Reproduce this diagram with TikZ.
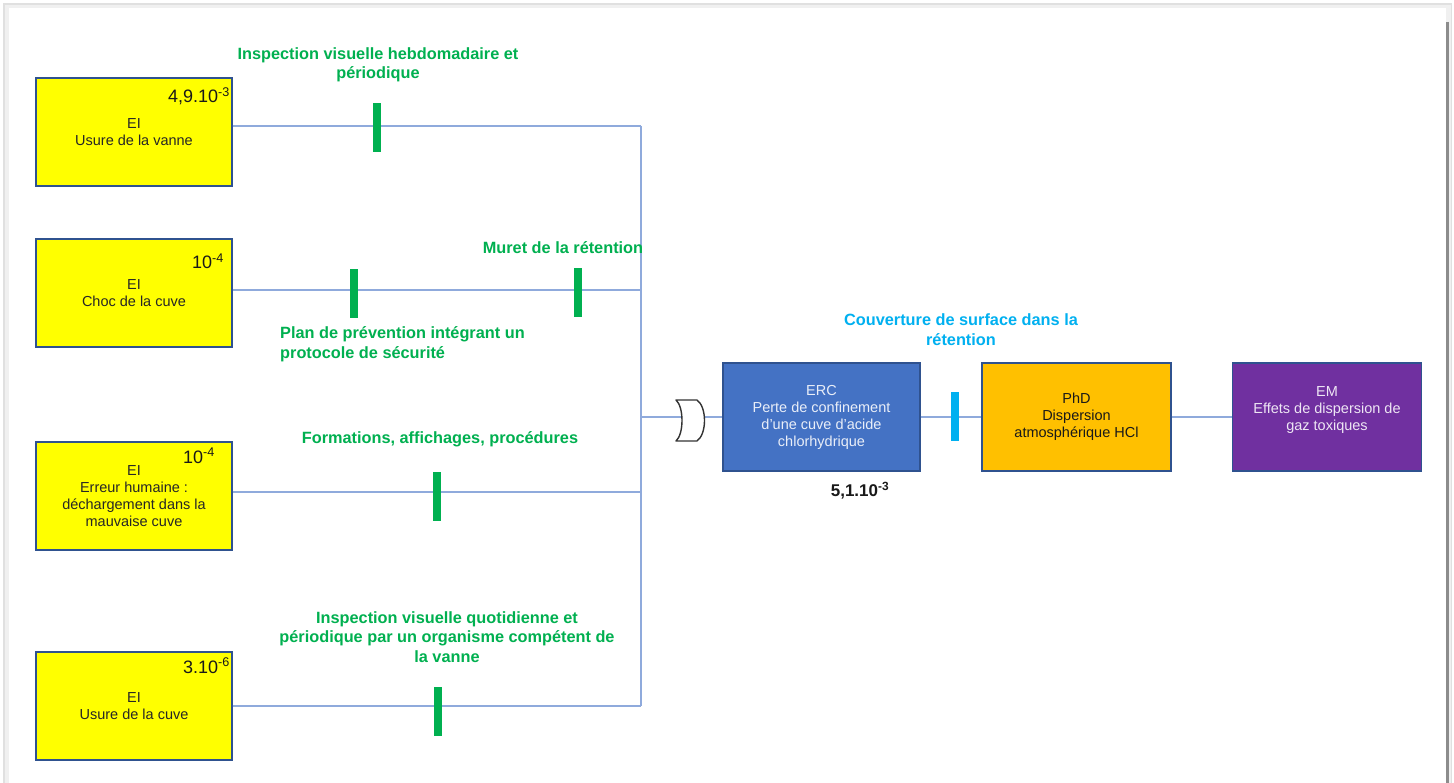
\documentclass[tikz,border=0pt]{standalone}
\usepackage{fontspec}
\setmainfont{Liberation Sans}
\definecolor{bordc}{HTML}{2F528F}
\definecolor{linec}{HTML}{8FAADC}
\definecolor{eiyellow}{HTML}{FFFF00}
\definecolor{barg}{HTML}{00B050}
\definecolor{cyanc}{HTML}{00B0F0}
\definecolor{ercblue}{HTML}{4472C4}
\definecolor{phdor}{HTML}{FFC000}
\definecolor{empur}{HTML}{7030A0}
\begin{document}
\begin{tikzpicture}[x=1pt,y=-1pt,
  box/.style={draw=bordc, line width=1.2pt, minimum width=196pt, minimum height=108pt, inner sep=0pt, align=center, font=\fontsize{14.5}{17}\selectfont},
  ei/.style={box, fill=eiyellow, text=black!85},
  link/.style={draw=linec, line width=1.2pt},
  bar/.style={fill=barg, minimum width=8pt, minimum height=49pt, inner sep=0pt},
  cbar/.style={fill=cyanc, minimum width=8pt, minimum height=49pt, inner sep=0pt},
  glab/.style={text=barg, font=\fontsize{16.3}{19.5}\selectfont\bfseries, align=center, inner sep=0pt},
  prob/.style={font=\fontsize{18}{20}\selectfont, inner sep=0pt, anchor=base east, text=black!90}]
\useasboundingbox (0,0) rectangle (1454,783);
% page frame with shadow
\fill[black!12] (3,3) rectangle (1452,783);
\fill[black!6] (5,5) rectangle (1451,783);
\fill[white] (9,8) rectangle (1446,783);
\draw[black!45, line width=2.5pt] (1447.5,22) -- (1447.5,783);
% initiating events
\node[ei] (e1) at (134,132) {EI\\Usure de la vanne};
\node[ei] (e2) at (134,293) {EI\\Choc de la cuve};
\node[ei] (e3) at (134,496) {EI\\Erreur humaine :\\déchargement dans la\\mauvaise cuve};
\node[ei] (e4) at (134,706) {EI\\Usure de la cuve};
\node[prob] (p1) at (230,103) {4,9.10\textsuperscript{-3}};
\node[prob] (p2) at (224,269) {10\textsuperscript{-4}};
\node[prob] (p3) at (215,463) {10\textsuperscript{-4}};
\node[prob] (p4) at (230,673) {3.10\textsuperscript{-6}};
% central boxes
\node[box, minimum width=197pt, fill=ercblue, text=white!88!ercblue] (erc) at (821.5,417) {ERC\\Perte de confinement\\d’une cuve d’acide\\chlorhydrique};
\node[box, minimum width=189pt, fill=phdor, text=black!90] (phd) at (1076.5,417) {PhD\\Dispersion\\atmosphérique HCl};
\node[box, minimum width=189pt, fill=empur] (em) at (1327,417) {};
\node[align=center, font=\fontsize{14.5}{17}\selectfont, text=white!88!empur, inner sep=0pt] (emt) at (1327,410) {EM\\Effets de dispersion de\\gaz toxiques};
% gate
\node[minimum width=30pt, minimum height=41pt, inner sep=0pt] (gate) at (691,420.5) {};
\coordinate (j1) at (641,126);
\coordinate (j2) at (641,290);
\coordinate (j3) at (641,492);
\coordinate (j4) at (641,706);
\coordinate (j0) at (641,417);
\coordinate (gin) at (682,417);
\coordinate (gout) at (705,417);
% connectors
\draw[link] (e1.east |- j1) -- (j1);
\draw[link] (e2.east |- j2) -- (j2);
\draw[link] (e3.east |- j3) -- (j3);
\draw[link] (e4.east |- j4) -- (j4);
\draw[link] (j1) -- (j4);
\draw[link] (j0) -- (gin);
\draw[link] (gout) -- (erc.west);
\draw[link] (erc.east) -- (phd.west);
\draw[link] (phd.east) -- (em.west);
\draw[black!80, line width=1.4pt, line join=round, fill=white]
  (676,400) -- (697,400) .. controls (707,407) and (707,434) .. (697,441)
  -- (676,441) .. controls (684,434) and (684,407) .. (676,400) -- cycle;
% barriers
\node[bar] (b1) at (377,128) {};
\node[bar] (b2) at (354,293.5) {};
\node[bar] (b3) at (578,293) {};
\node[bar] (b4) at (437,496) {};
\node[bar] (b5) at (438,711.5) {};
\node[cbar] (b6) at (955,416.5) {};
% labels
\node[glab] (l1) at (378,65) {Inspection visuelle hebdomadaire et\\périodique};
\node[glab] (l2) at (563,248) {Muret de la rétention};
\node[glab, align=left, anchor=west] (l3) at (280,344) {Plan de prévention intégrant un\\protocole de sécurité};
\node[glab] (l4) at (440,439) {Formations, affichages, procédures};
\node[glab] (l5) at (447,637) {Inspection visuelle quotidienne et\\périodique par un organisme compétent de\\la vanne};
\node[glab, text=cyanc] (l6) at (961,329.5) {Couverture de surface dans la\\rétention};
\node[font=\fontsize{17}{20}\selectfont\bfseries, inner sep=0pt, text=black!90] (p5) at (860,491) {5,1.10\textsuperscript{-3}};
\end{tikzpicture}
\end{document}
